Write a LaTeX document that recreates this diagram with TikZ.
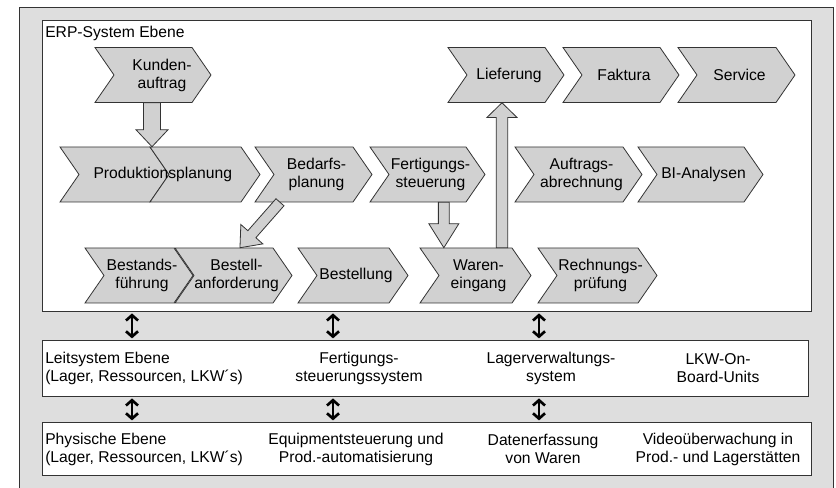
\documentclass[tikz,border=0pt]{standalone}
\usepackage{fontspec}
\setmainfont{Liberation Sans}
\usetikzlibrary{calc,arrows.meta}
\tikzset{>=stealth}
\tikzset{
  chev/.style={draw=black!80, fill=black!18, line width=0.6pt},
  chevtext/.style={inner sep=0pt, minimum height=41.25pt, align=center},
  layer/.style={draw=black!80, fill=white, line width=0.6pt, inner sep=0pt, anchor=north west},
  blockarr/.style={draw=black!80, fill=black!18, line width=0.6pt},
  dblarrow/.style={{Straight Barb[length=4pt,width=9pt]}-{Straight Barb[length=4pt,width=9pt]}, line width=2pt, shorten <=1.2pt, shorten >=1.2pt},
  plain/.style={inner sep=0pt, align=center}
}
% chevron: [text shift] name, left x, tip x, top y, text
\newcommand{\chevron}[6][3]{%
  \draw[chev] (#3,#5) -- ++(#4-#3-19,0) -- ++(19,27.5) -- ++(-19,27.5) -- ++(#3-#4+19,0) -- ++(19,-27.5) -- cycle;
  \node[chevtext, minimum width={(#4-#3-19)*0.75pt}] (#2) at ({(#3+#4)/2+#1},#5+27.5) {#6};
}
% block arrow: from, to, shaft half width, head half width, head length
\newcommand{\blockarrow}[5]{%
  \coordinate (ba) at ($(#2)!#5!(#1)$);
  \draw[blockarr] ($(#1)!#3!90:(#2)$) -- ($(ba)!#3!90:(#2)$) -- ($(ba)!#4!90:(#2)$) -- (#2)
    -- ($(ba)!#4!-90:(#2)$) -- ($(ba)!#3!-90:(#2)$) -- ($(#1)!#3!-90:(#2)$) -- cycle;
}

\begin{document}
\begin{tikzpicture}[x=0.75pt, y=-0.75pt, font=\fontsize{11.75}{13.5}\selectfont]
  \useasboundingbox (0,0) rectangle (836,488);

  % the three levels
  \node[layer, fill=black!13, minimum width=610.5pt, minimum height=363.75pt] (frame) at (19,7) {};
  \node[layer, minimum width=576.75pt, minimum height=218.25pt] (erp) at (42,20) {};
  \node[layer, minimum width=574.5pt, minimum height=42pt] (leit) at (42,340) {};
  \node[layer, minimum width=576.75pt, minimum height=39.75pt] (phys) at (42,422) {};

  \node[anchor=base west, inner sep=0pt] (erplabel) at (45,38) {ERP-System Ebene};

  % first row
  \chevron[9]{kunden}{95}{211}{47.5}{Kunden-\\auftrag}
  \chevron{lieferung}{448}{564}{47.5}{Lieferung}
  \chevron{faktura}{563}{679}{47.5}{Faktura}
  \chevron{service}{678}{795}{47.5}{Service}

  % second row
  \chevron{prodA}{60}{169}{147}{}
  \chevron{prodB}{150}{260}{147}{}
  \node[plain] (prodtext) at ($(prodA)!0.5!(prodB)$) {Produktionsplanung};
  \chevron{bedarfs}{255}{372}{147}{Bedarfs-\\planung}
  \chevron{fertigung}{370}{485}{147}{Fertigungs-\\steuerung}
  \chevron{auftrags}{515}{642}{147}{Auftrags-\\abrechnung}
  \chevron{bi}{638}{763}{147}{BI-Analysen}

  % third row
  \chevron{bestands}{85}{193}{248}{Bestands-\\führung}
  \chevron{bestell}{175}{292}{248}{Bestell-\\anforderung}
  \chevron{bestellung}{298}{408}{248}{Bestellung}
  \chevron{waren}{420}{531}{248}{Waren-\\eingang}
  \chevron{rechnung}{538}{657}{248}{Rechnungs-\\prüfung}

  % block arrows
  \coordinate (k1) at ([xshift=-7.5pt]kunden.south);
  \coordinate (k2) at (k1 |- prodA.north);
  \blockarrow{k1}{k2}{6.4pt}{12pt}{12.75pt}
  \coordinate (b1) at ([xshift=-27.4pt]bedarfs.south);
  \coordinate (b2) at ([xshift=2.6pt]bestell.north);
  \blockarrow{b1}{b2}{4pt}{11pt}{13.5pt}
  \coordinate (f1) at ([xshift=10pt]fertigung.south);
  \coordinate (f2) at (f1 |- waren.north);
  \blockarrow{f1}{f2}{4.1pt}{11.25pt}{18pt}
  \coordinate (w1) at ([xshift=17.6pt]waren.north);
  \coordinate (w2) at (w1 |- lieferung.south);
  \blockarrow{w1}{w2}{4.3pt}{11.25pt}{11pt}

  % Leitsystem level
  \node[anchor=west, align=left, inner sep=0pt] (leittitle) at (45,368) {Leitsystem Ebene\\(Lager, Ressourcen, LKW´s)};
  \node[plain] (fss) at (359,368) {Fertigungs-\\steuerungssystem};
  \node[plain] (lvs) at (551,368) {Lagerverwaltungs-\\system};
  \node[plain] (obu) at (718,368) {LKW-On-\\Board-Units};

  % physical level
  \node[anchor=west, align=left, inner sep=0pt] (phystitle) at (45,449) {Physische Ebene\\(Lager, Ressourcen, LKW´s)};
  \node[plain] (equip) at (356,449) {Equipmentsteuerung und\\Prod.-automatisierung};
  \node[plain] (daten) at (543,449) {Datenerfassung\\von Waren};
  \node[plain] (video) at (718,449) {Videoüberwachung in\\Prod.- und Lagerstätten};

  % links between the levels
  \foreach \n/\x in {c1/132, c2/333, c3/539} {
    \coordinate (\n) at (\x,0);
    \draw[dblarrow] (\n |- erp.south) -- (\n |- leit.north);
    \draw[dblarrow] (\n |- leit.south) -- (\n |- phys.north);
  }
\end{tikzpicture}
\end{document}
